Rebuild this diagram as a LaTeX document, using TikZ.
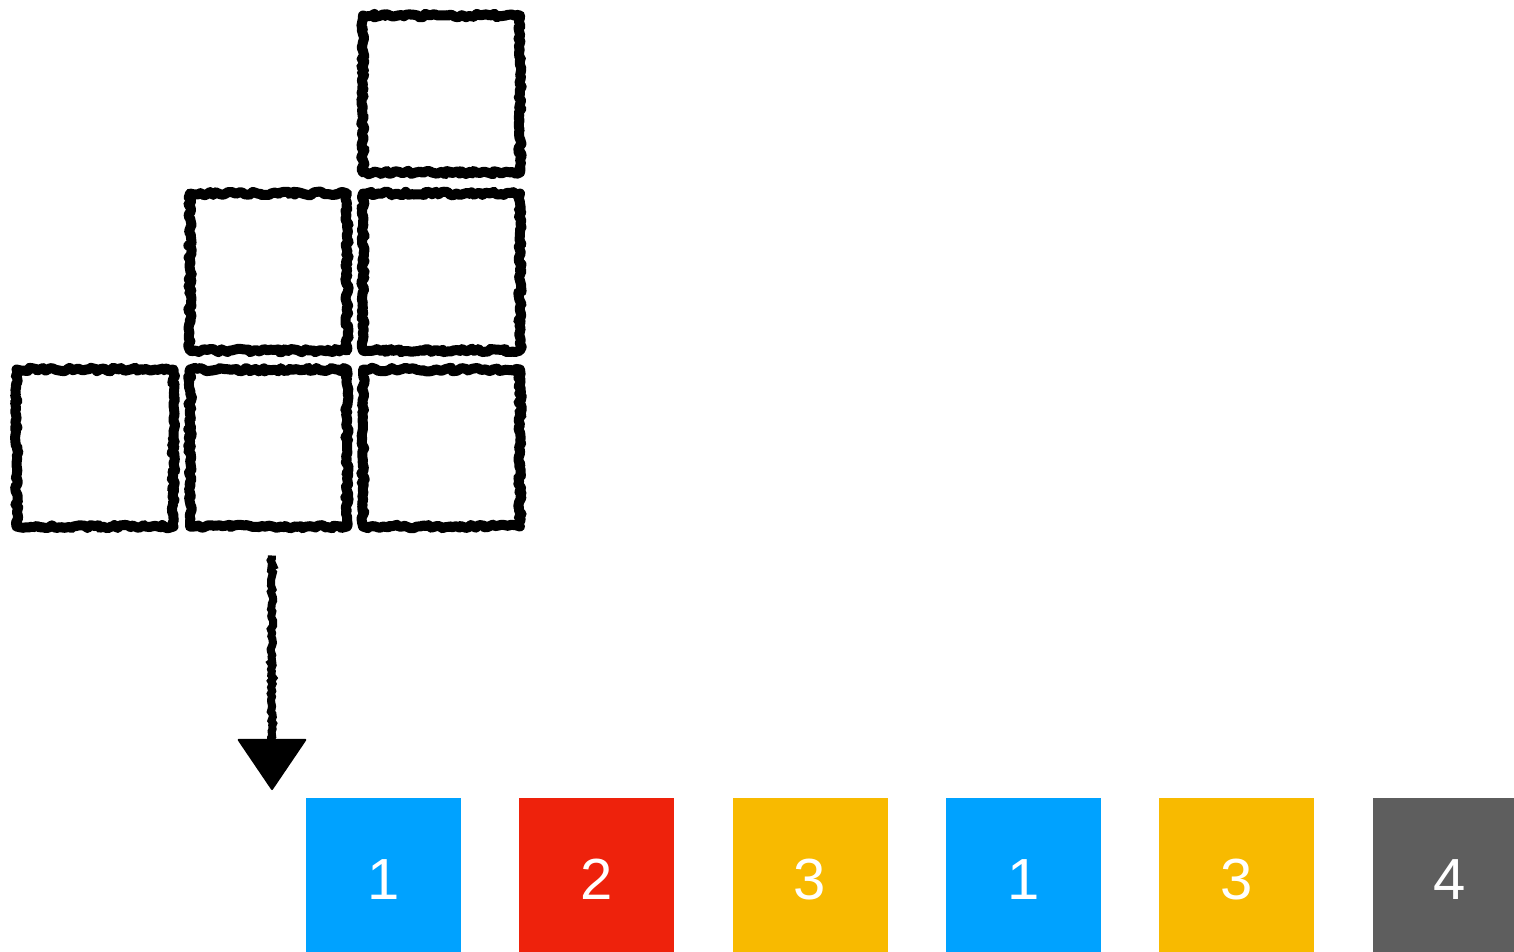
\documentclass[tikz,border=0pt]{standalone}
\usepackage{fontspec}
\setmainfont{Liberation Sans}
\usetikzlibrary{positioning,arrows.meta,decorations.pathmorphing}
\definecolor{keyblue}{RGB}{0,162,255}
\definecolor{keyred}{RGB}{238,34,12}
\definecolor{keyyellow}{RGB}{248,186,0}
\definecolor{keygray}{RGB}{94,94,94}
\tikzset{
  sketchbox/.style={draw=black, line width=10pt, line join=round, minimum size=157pt, inner sep=0pt,
    decorate, decoration={random steps, segment length=3pt, amplitude=1.8pt}},
  sketcharrow/.style={draw=black, line width=8pt, decorate,
    decoration={random steps, segment length=3pt, amplitude=1.3pt, post length=12pt},
    -{Triangle[length=52pt, width=70pt, line width=2pt, round]}},
  tile/.style={minimum size=155pt, inner sep=0pt, text=white, text height=48pt, text depth=0pt,
    font=\fontsize{58}{60}\selectfont},
}
\begin{document}
\begin{tikzpicture}[x=1pt, y=-1pt]
        \useasboundingbox (0,0) rectangle (1514,951);
        % staircase of sketched boxes
        \node[sketchbox] (s13) at (441.5,94) {};
        \node[sketchbox] (s22) at (268.5,272) {};
        \node[sketchbox] (s23) at (441.5,272) {};
        \node[sketchbox] (s31) at (95,448) {};
        \node[sketchbox] (s32) at (268.5,448) {};
        \node[sketchbox] (s33) at (441.5,448) {};
        % coloured tiles
        \foreach \c/\n [count=\i] in {keyblue/1,keyred/2,keyyellow/3,keyblue/1,keyyellow/3,keygray/4}
          \node[tile, fill=\c] (t\i) at ({383.5+213.3*(\i-1)},875.5) {\n};
        \coordinate (drop) at (272,790);
        \draw[sketcharrow] ([yshift=-24pt]s32.south -| drop) -- (drop);
    \end{tikzpicture}
\end{document}
